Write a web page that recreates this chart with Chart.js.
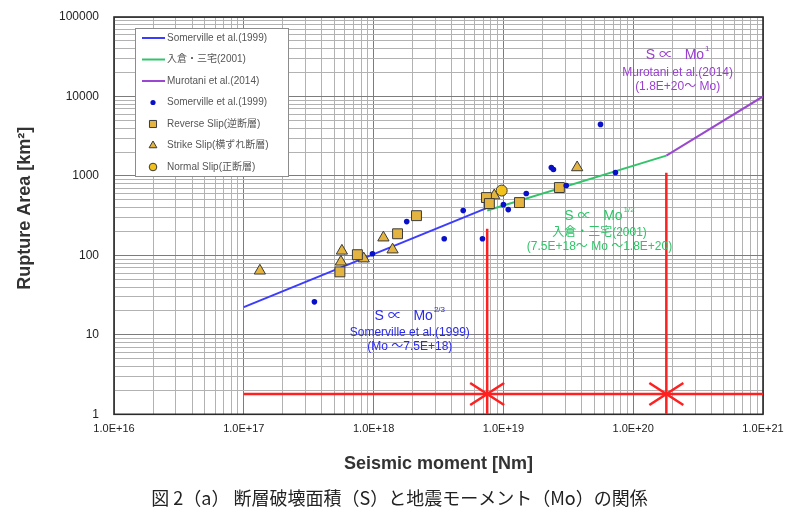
<!DOCTYPE html>
<html>
<head>
<meta charset="utf-8">
<script src="https://cdn.jsdelivr.net/npm/chart.js@4.4.0/dist/chart.umd.min.js"></script>
<style>
  html, body { margin: 0; background: #fff; }
  #wrap { width: 787px; height: 518px; }
</style>
</head>
<body>
<div id="wrap"><canvas id="c"></canvas></div>
<script>
// regression lines, [Mo, S] end points
const somervilleLine = [[1e17, 22.3], [7.5e18, 396]];
const irikuraLine = [[7.5e18, 367], [1.8e20, 1800]];
const murotaniLine = [[1.8e20, 1800], [1e21, 10000]];

// Somerville et al.(1999) data
const somervilleMo = [3.5e17, 9.8e17, 1.8e18, 3.5e18, 4.9e18, 6.9e18, 1.0e19, 1.09e19, 1.5e19, 2.34e19, 2.43e19, 3.05e19, 5.6e19, 7.3e19];
const somervilleS = [26, 105, 266, 162, 366, 162, 435, 377, 600, 1277, 1205, 757, 4450, 1104];

// reverse slip
const reverseMo = [5.5e17, 7.5e17, 1.53e18, 2.14e18, 7.4e18, 7.8e18, 1.33e19, 2.7e19];
const reverseS = [62, 102, 187, 316, 534, 449, 462, 714];

// strike slip
const strikeMo = [1.33e17, 5.7e17, 5.6e17, 8.4e17, 1.19e18, 1.4e18, 8.5e18, 3.7e19];
const strikeS = [64, 114, 83, 91, 167, 118, 566, 1277];

// normal slip
const normalMo = [9.7e18];
const normalS = [654];

// red range markers
const rangeLine = [[1e17, 1.8], [1e21, 1.8]];
const boundaryMo = [7.5e18, 1.8e20];
const boundaryTop = [217, 1100];

// annotation anchors [Mo, S]
const noteAnchors = [[1.9e18, 17.3], [5.5e19, 316], [2.2e20, 33000]];
const noteColors = ['#2a2aee', '#2fc468', '#9a3fd0'];
const noteLines = [
  ['Mo', '2/3', 'Somerville et al.(1999)', '(Mo \uff5e7.5E+18)'],
  ['Mo', '1/2', '入倉・三宅(2001)', '(7.5E+18\uff5e Mo \uff5e1.8E+20)'],
  ['Mo', '1', 'Murotani et al.(2014)', '(1.8E+20\uff5e Mo)']
];

const pts = (xs, ys) => xs.map((x, i) => ({x: x, y: ys[i]}));
const seg = arr => arr.map(p => ({x: p[0], y: p[1]}));

function logTicks(lo, hi) {
  const t = [];
  for (let e = lo; e < hi; e++) {
    for (let s = 1; s < 10; s++) t.push({value: s * Math.pow(10, e)});
  }
  t.push({value: Math.pow(10, hi)});
  return t;
}

const FONT = '"Liberation Sans", "Noto Sans CJK JP", sans-serif';
Chart.defaults.font.family = FONT;

const gridColor = ctx => ctx.index % 9 === 0 ? '#7c7c7c' : '#b2b2b2';

const datasets = [
  {label: 'Somerville et al.(1999)', data: seg(somervilleLine), showLine: true, borderColor: '#3c3cff', borderWidth: 2, pointRadius: 0, inLegend: true, order: 1},
  {label: '入倉・三宅(2001)', data: seg(irikuraLine), showLine: true, borderColor: '#33c46a', borderWidth: 2, pointRadius: 0, inLegend: true, order: 1},
  {label: 'Murotani et al.(2014)', data: seg(murotaniLine), showLine: true, borderColor: '#9a48d0', borderWidth: 2, pointRadius: 0, inLegend: true, order: 1},
  {label: 'Somerville et al.(1999)', data: pts(somervilleMo, somervilleS), pointStyle: 'circle', pointRadius: 2.8, backgroundColor: '#0a10c8', borderWidth: 0, legendRadius: 2.6, inLegend: true, order: 0},
  {label: 'Reverse Slip(逆断層)', data: pts(reverseMo, reverseS), pointStyle: 'rect', pointRadius: 7, backgroundColor: '#e4b440', borderColor: '#3a3a3a', borderWidth: 1, legendRadius: 5, inLegend: true, order: 0},
  {label: 'Strike Slip(横ずれ断層)', data: pts(strikeMo, strikeS), pointStyle: 'triangle', pointRadius: 6.5, backgroundColor: '#e4b440', borderColor: '#3a3a3a', borderWidth: 1, legendRadius: 4.5, inLegend: true, order: 0},
  {label: 'Normal Slip(正断層)', data: pts(normalMo, normalS), pointStyle: 'circle', pointRadius: 5.5, backgroundColor: '#f2c21a', borderColor: '#3a3a3a', borderWidth: 1, legendRadius: 3.8, inLegend: true, order: 0},
  {label: 'range', data: seg(rangeLine), showLine: true, borderColor: '#ff2020', borderWidth: 2.5, pointRadius: 0, order: 2},
  {label: 'b1', data: [{x: boundaryMo[0], y: 1}, {x: boundaryMo[0], y: boundaryTop[0]}], showLine: true, borderColor: '#ff2020', borderWidth: 2.5, pointRadius: 0, order: 2},
  {label: 'b2', data: [{x: boundaryMo[1], y: 1}, {x: boundaryMo[1], y: boundaryTop[1]}], showLine: true, borderColor: '#ff2020', borderWidth: 2.5, pointRadius: 0, order: 2}
];

const frame = {
  id: 'frame',
  beforeDatasetsDraw(chart) {
    const {ctx, chartArea: a} = chart;
    ctx.save();
    ctx.strokeStyle = '#2a2a2a';
    ctx.lineWidth = 1.6;
    ctx.strokeRect(a.left, a.top, a.right - a.left, a.bottom - a.top);
    ctx.restore();
  }
};

// arrow heads where the red range line meets the boundaries
const arrows = {
  id: 'arrows',
  afterDatasetsDraw(chart) {
    const {ctx} = chart;
    const xs = chart.scales.x, ys = chart.scales.y;
    const ry = ys.getPixelForValue(rangeLine[0][1]);
    ctx.save();
    ctx.strokeStyle = '#ff2020';
    ctx.lineWidth = 2.5;
    boundaryMo.forEach(mo => {
      const bx = xs.getPixelForValue(mo);
      [-1, 1].forEach(side => {
        ctx.beginPath();
        ctx.moveTo(bx + side * 17, ry - 11);
        ctx.lineTo(bx, ry);
        ctx.lineTo(bx + side * 17, ry + 11);
        ctx.stroke();
      });
    });
    ctx.restore();
  }
};

const notes = {
  id: 'notes',
  afterDatasetsDraw(chart) {
    const {ctx} = chart;
    const xs = chart.scales.x, ys = chart.scales.y;
    ctx.save();
    ctx.textBaseline = 'middle';
    noteAnchors.forEach((p, i) => {
      const cx = xs.getPixelForValue(p[0]);
      const cy = ys.getPixelForValue(p[1]);
      const l = noteLines[i];
      ctx.fillStyle = noteColors[i];
      // first line with superscript
      const main = 'S \u221d   ' + l[0];
      ctx.font = '14px ' + FONT;
      const w1 = ctx.measureText(main).width;
      ctx.font = '8px ' + FONT;
      const w2 = ctx.measureText(l[1]).width;
      const sx = cx - (w1 + w2 + 1) / 2;
      ctx.textAlign = 'left';
      ctx.font = '14px ' + FONT;
      ctx.fillText(main, sx, cy);
      ctx.font = '8px ' + FONT;
      ctx.fillText(l[1], sx + w1 + 1, cy - 6);
      ctx.textAlign = 'center';
      ctx.font = '12px ' + FONT;
      ctx.fillText(l[2], cx, cy + 17);
      ctx.fillText(l[3], cx, cy + 31);
    });
    ctx.restore();
  }
};

const legendBox = {
  id: 'legendBox',
  afterDatasetsDraw(chart) {
    const {ctx, chartArea: a} = chart;
    const x = a.left + 21, y = a.top + 11, w = 153, h = 148;
    ctx.save();
    ctx.fillStyle = '#fff';
    ctx.fillRect(x, y, w, h);
    ctx.strokeStyle = '#8c8c8c';
    ctx.lineWidth = 1;
    ctx.strokeRect(x + 0.5, y + 0.5, w, h);
    ctx.font = '10px ' + FONT;
    ctx.textBaseline = 'middle';
    ctx.textAlign = 'left';
    chart.data.datasets.filter(d => d.inLegend).forEach((d, i) => {
      const ry = y + 10 + i * 21.5;
      if (d.showLine) {
        ctx.strokeStyle = d.borderColor;
        ctx.lineWidth = 2;
        ctx.beginPath();
        ctx.moveTo(x + 7, ry);
        ctx.lineTo(x + 30, ry);
        ctx.stroke();
      } else {
        ctx.fillStyle = d.backgroundColor;
        ctx.strokeStyle = d.borderColor || d.backgroundColor;
        ctx.lineWidth = d.borderWidth;
        Chart.helpers.drawPoint(ctx, {pointStyle: d.pointStyle, radius: d.legendRadius, borderWidth: d.borderWidth, rotation: 0}, x + 18, ry);
      }
      ctx.fillStyle = '#555';
      ctx.fillText(d.label, x + 32, ry);
    });
    ctx.restore();
  }
};

new Chart(document.getElementById('c'), {
  type: 'scatter',
  data: {datasets: datasets},
  options: {
    responsive: true,
    maintainAspectRatio: false,
    animation: false,
    layout: {padding: {top: 17, right: 24, left: 0, bottom: 0}},
    plugins: {
      legend: {display: false},
      tooltip: {enabled: false},
      title: {
        display: true,
        position: 'bottom',
        text: '\u3000\u3000図 2（a） 断層破壊面積（S）と地震モーメント（Mo）の関係',
        color: '#222',
        font: {family: '"Noto Sans CJK JP", sans-serif', size: 18, weight: 'normal', lineHeight: 1.15},
        padding: {top: 3, bottom: 9}
      }
    },
    scales: {
      x: {
        type: 'logarithmic',
        min: 1e16,
        max: 1e21,
        afterBuildTicks: s => { s.ticks = logTicks(16, 21); },
        afterFit: s => { s.height = 71; s.paddingLeft = 0; s.paddingRight = 0; },
        ticks: {
          autoSkip: false,
          maxRotation: 0,
          minRotation: 0,
          padding: 8,
          color: '#222',
          font: {size: 11},
          callback: (v, i) => i % 9 === 0 ? '1.0E+' + (16 + i / 9) : ''
        },
        grid: {color: gridColor, drawTicks: false},
        border: {display: false},
        title: {
          display: true,
          text: 'Seismic moment [Nm]',
          color: '#333',
          font: {size: 18, weight: 'bold', lineHeight: 1.2},
          padding: {top: 0, bottom: 10.2}
        }
      },
      y: {
        type: 'logarithmic',
        min: 1,
        max: 100000,
        afterBuildTicks: s => { s.ticks = logTicks(0, 5); },
        afterFit: s => { s.width = 114; s.paddingTop = 0; s.paddingBottom = 0; },
        ticks: {
          autoSkip: false,
          padding: 15,
          color: '#222',
          font: {size: 12},
          callback: (v, i) => i % 9 === 0 ? String(Math.pow(10, i / 9)) : ''
        },
        grid: {color: gridColor, drawTicks: false},
        border: {display: false},
        title: {
          display: true,
          text: '   Rupture Area [km²]',
          color: '#333',
          font: {size: 18, weight: 'bold', lineHeight: 1.2},
          padding: {top: 14.2, bottom: 0}
        }
      }
    }
  },
  plugins: [frame, arrows, notes, legendBox]
});
</script>
</body>
</html>
